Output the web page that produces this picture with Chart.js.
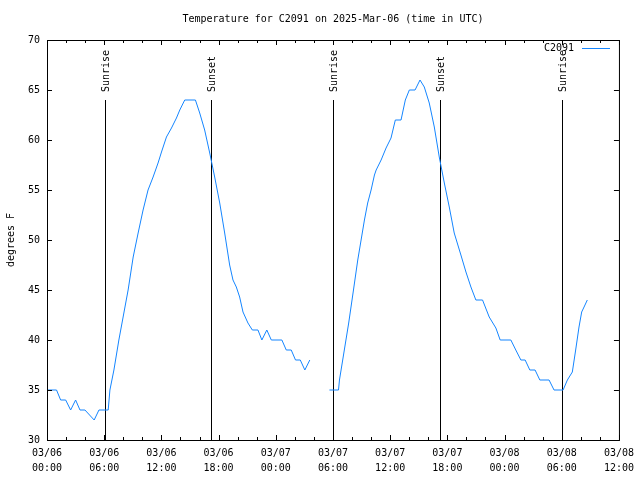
<!DOCTYPE html>
<html>
<head>
<meta charset="utf-8">
<script src="https://cdn.jsdelivr.net/npm/chart.js@4/dist/chart.umd.min.js"></script>
<style>
html,body{margin:0;padding:0;background:#fff;}
canvas{display:block;}
</style>
</head>
<body>
<canvas id="c" width="640" height="480"></canvas>
<script>
// Hours since 2025-03-06 00:00 UTC
const hours = [
  0.0, 1.0, 1.43, 1.96, 2.48, 3.0, 3.46, 3.98, 4.95, 5.45, 6.42, 6.6, 7.02, 7.54, 8.51, 9.04, 9.56,
  10.08, 10.6, 11.13, 11.65, 12.01, 12.53, 13.06, 13.58, 13.93, 14.45, 15.57, 16.02, 16.54, 17.07,
  17.59, 18.12, 18.64, 19.16, 19.51, 19.86, 20.21, 20.56, 21.08, 21.54, 22.13, 22.54, 23.06, 23.53,
  24.64, 25.1, 25.62, 26.07, 26.57, 27.05, 27.57,
  28.6,
  29.63, 30.58, 30.68, 31.65, 32.15, 32.6, 32.95, 33.3, 33.64, 34.0, 34.35, 34.53, 35.05, 35.57,
  36.09, 36.54, 37.14, 37.59, 38.01, 38.61, 39.13, 39.58, 40.1, 40.63, 41.15, 41.68, 42.2, 42.72,
  43.42, 43.95, 44.47, 44.99, 45.69, 46.39, 47.09, 47.54, 48.66, 49.18, 49.71, 50.16, 50.65, 51.2,
  51.7, 52.67, 53.19, 54.14, 54.59, 55.11, 55.46, 55.81, 56.09, 56.34, 56.68
];
const temps = [
  35, 35, 34, 34, 33, 34, 33, 33, 32, 33, 33, 35, 37, 40, 45, 48.3, 50.7,
  53, 55, 56.3, 57.7, 58.8, 60.3, 61.2, 62.2, 63, 64, 64, 62.7, 61, 58.7,
  56.3, 53.7, 50.7, 47.5, 46, 45.3, 44.3, 42.8, 41.7, 41, 41, 40, 41, 40,
  40, 39, 39, 38, 38, 37, 38,
  null,
  35, 35, 36, 41.7, 45, 48, 50, 52, 53.7, 55, 56.5, 57, 58, 59.2,
  60.2, 62, 62, 64, 65, 65, 66, 65.3, 63.7, 61.3, 58.3, 55.7, 53.3, 50.7,
  48.5, 46.8, 45.3, 44, 44, 42.3, 41.2, 40, 40, 39, 38, 38, 37, 37,
  36, 36, 35, 35, 36, 36.8, 39, 41.3, 42.8, 43.3, 44
];
const sunHours  = [6.07, 17.17, 30.05, 41.26, 54.03];
const sunLabels = ["Sunrise", "Sunset", "Sunrise", "Sunset", "Sunrise"];
const xTickHours = [0, 6, 12, 18, 24, 30, 36, 42, 48, 54, 60];
const yTickValues = [30, 35, 40, 45, 50, 55, 60, 65, 70];
const seriesName = "C2091";
const titleText = "Temperature for C2091 on 2025-Mar-06 (time in UTC)";
const yAxisLabel = "degrees F";
const baseDay = 6;

const FONT = '10px "DejaVu Sans Mono", "Liberation Mono", monospace';
const LINE_COLOR = '#1485ff';

function pad(n){ return (n < 10 ? '0' : '') + n; }
function hourLabel(h){
  const day = baseDay + Math.floor(h / 24);
  const hh = h % 24;
  return ['03/' + pad(day), pad(hh) + ':00'];
}

const decor = {
  id: 'decor',
  beforeDatasetsDraw(chart){
    const ctx = chart.ctx, a = chart.chartArea;
    const xs = chart.scales.x;
    ctx.save();
    ctx.strokeStyle = '#000';
    ctx.lineWidth = 1;
    ctx.fillStyle = '#000';
    ctx.font = FONT;
    sunHours.forEach((h, i) => {
      const px = Math.round(xs.getPixelForValue(h)) + 0.5;
      ctx.beginPath();
      ctx.moveTo(px, a.top + 60);
      ctx.lineTo(px, a.bottom);
      ctx.stroke();
      ctx.save();
      ctx.translate(px + 1, a.top + 52);
      ctx.rotate(-Math.PI / 2);
      ctx.textAlign = 'left';
      ctx.textBaseline = 'middle';
      ctx.fillText(sunLabels[i], 0, 0);
      ctx.restore();
    });
    ctx.restore();
  },
  afterDraw(chart){
    const ctx = chart.ctx, a = chart.chartArea;
    const xs = chart.scales.x, ys = chart.scales.y;
    ctx.save();
    ctx.strokeStyle = '#000';
    ctx.lineWidth = 1;
    ctx.strokeRect(a.left + 0.5, a.top + 0.5, a.right - a.left, a.bottom - a.top);
    ctx.beginPath();
    for (let h = xs.min; h <= xs.max; h += 2) {
      const px = Math.round(xs.getPixelForValue(h)) + 0.5;
      const len = (h % 6 === 0) ? 5 : 3;
      ctx.moveTo(px, a.bottom); ctx.lineTo(px, a.bottom - len);
      ctx.moveTo(px, a.top); ctx.lineTo(px, a.top + len);
    }
    yTickValues.forEach(v => {
      const py = Math.round(ys.getPixelForValue(v)) + 0.5;
      ctx.moveTo(a.left, py); ctx.lineTo(a.left + 5, py);
      ctx.moveTo(a.right, py); ctx.lineTo(a.right - 5, py);
    });
    ctx.stroke();

    ctx.fillStyle = '#000';
    ctx.font = FONT;
    // title
    ctx.textAlign = 'center';
    ctx.textBaseline = 'middle';
    ctx.fillText(titleText, (a.left + a.right) / 2, 19);
    // y-axis label
    ctx.save();
    ctx.translate(11, (a.top + a.bottom) / 2);
    ctx.rotate(-Math.PI / 2);
    ctx.fillText(yAxisLabel, 0, 0);
    ctx.restore();
    // legend
    ctx.textAlign = 'right';
    ctx.fillText(seriesName, 574, 48);
    ctx.strokeStyle = LINE_COLOR;
    ctx.beginPath();
    ctx.moveTo(582, 48.5); ctx.lineTo(610, 48.5);
    ctx.stroke();
    ctx.restore();
  }
};

new Chart(document.getElementById('c'), {
  type: 'line',
  data: {
    datasets: [{
      label: seriesName,
      data: hours.map((h, i) => ({ x: h, y: temps[i] })),
      borderColor: LINE_COLOR,
      backgroundColor: LINE_COLOR,
      borderWidth: 1,
      pointRadius: 0,
      tension: 0,
      spanGaps: false,
      fill: false
    }]
  },
  options: {
    responsive: false,
    animation: false,
    events: [],
    layout: { padding: { top: 40, right: 19, left: 0, bottom: 0 } },
    plugins: { legend: { display: false }, title: { display: false }, tooltip: { enabled: false } },
    scales: {
      x: {
        type: 'linear',
        min: 0, max: 60,
        afterFit(s){ s.height = 40; },
        afterBuildTicks(s){ s.ticks = xTickHours.map(v => ({ value: v })); },
        grid: { display: false, drawTicks: false },
        border: { display: false },
        ticks: {
          autoSkip: false, maxRotation: 0, minRotation: 0,
          padding: 6,
          color: '#000',
          font: { family: '"DejaVu Sans Mono", "Liberation Mono", monospace', size: 10, lineHeight: 1.5 },
          callback: (v) => hourLabel(v)
        }
      },
      y: {
        min: 30, max: 70,
        afterFit(s){ s.width = 47; },
        afterBuildTicks(s){ s.ticks = yTickValues.map(v => ({ value: v })); },
        grid: { display: false, drawTicks: false },
        border: { display: false },
        ticks: {
          padding: 7,
          color: '#000',
          font: { family: '"DejaVu Sans Mono", "Liberation Mono", monospace', size: 10 }
        }
      }
    }
  },
  plugins: [decor]
});
</script>
</body>
</html>
